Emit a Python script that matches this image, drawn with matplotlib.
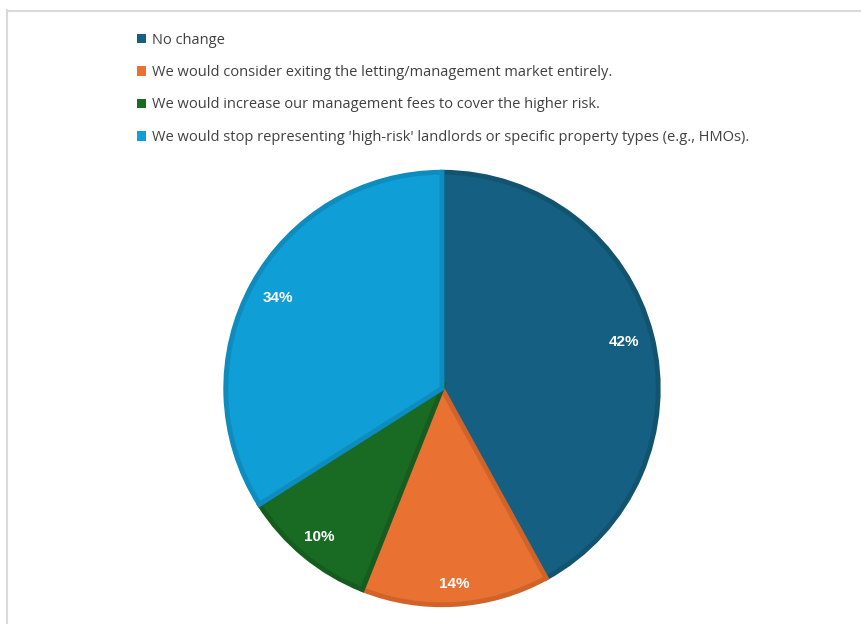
import numpy as np
import matplotlib.pyplot as plt
from matplotlib.patches import Patch
from matplotlib.lines import Line2D

labels = [
    "No change",
    "We would consider exiting the letting/management market entirely.",
    "We would increase our management fees to cover the higher risk.",
    "We would stop representing 'high-risk' landlords or specific property types (e.g., HMOs).",
]
shares = [42, 14, 10, 34]
colors = ["#156082", "#E97132", "#196B24", "#0F9ED5"]
edge_colors = ["#12546f", "#D0632A", "#165C1F", "#0D8CBD"]
# best-fit label distance from centre, as fraction of the radius
label_dist = [0.86, 0.90, 0.885, 0.86]

plt.rcParams["font.family"] = ["Open Sans", "DejaVu Sans"]

W, H = 862, 624
fig = plt.figure(figsize=(W / 100, H / 100), dpi=100)

# light chart-area frame (top and left edges visible)
fig.add_artist(Line2D([7 / W, 1], [1 - 10.5 / H, 1 - 10.5 / H], color="#d9d9d9", lw=1.5))
fig.add_artist(Line2D([7.5 / W, 7.5 / W], [0, 1 - 10 / H], color="#d9d9d9", lw=1.5))

# pie axes placed by pixel centre and radius
cx, cy, r = 442, 388.5, 218
ax = fig.add_axes([(cx - r) / W, 1 - (cy + r) / H, 2 * r / W, 2 * r / H])

wedges, texts, autotexts = ax.pie(
    shares, colors=colors, startangle=90, counterclock=False, radius=1 - 0.008,
    autopct=lambda p: f"{p:.0f}%", pctdistance=0.86,
    wedgeprops=dict(linewidth=3.5),
    textprops=dict(color="white", fontsize=11, fontweight="bold", family="Liberation Sans"),
)
for w, ec, t, d in zip(wedges, edge_colors, autotexts, label_dist):
    w.set_edgecolor(ec)
    w.set_joinstyle("miter")
    mid = np.deg2rad((w.theta1 + w.theta2) / 2)
    t.set_position((d * np.cos(mid), d * np.sin(mid)))
ax.set_xlim(-1, 1)
ax.set_ylim(-1, 1)
ax.set_aspect("equal")
ax.axis("off")

handles = [Patch(facecolor=c, edgecolor="none") for c in colors]
leg = fig.legend(
    handles, labels, loc="upper left", bbox_to_anchor=(137 / W, 1 - 32.5 / H),
    frameon=False, fontsize=10.5, handlelength=0.65, handleheight=0.65,
    handletextpad=0.35, labelspacing=1.2, borderpad=0, borderaxespad=0,
)
for t in leg.get_texts():
    t.set_color("#404040")

fig.savefig("out.png", dpi=100)
